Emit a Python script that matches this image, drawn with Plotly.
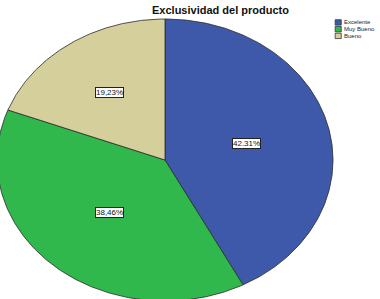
import numpy as np
import plotly.graph_objects as go

categories = ["Excelente", "Muy Bueno", "Bueno"]
values = [42.31, 38.46, 19.23]
value_labels = ["42.31%", "38,46%", "19,23%"]
colors = ["#3f59aa", "#30b84c", "#d5cf9c"]
label_radius = [0.5, 0.5, 0.58]

RX, RY = 168, 141  # ellipse radii (axis units = pixels)

fig = go.Figure()
total = sum(values)
start = 0.0
for cat, val, lab, col, lr in zip(categories, values, value_labels, colors, label_radius):
    span = val / total * 2 * np.pi
    th = np.linspace(start, start + span, 200)
    xs = np.concatenate([[0], RX * np.sin(th), [0]])
    ys = np.concatenate([[0], RY * np.cos(th), [0]])
    fig.add_trace(go.Scatter(x=xs, y=ys, mode="lines", fill="toself",
                             fillcolor=col, line=dict(color="#2a2a2a", width=0.8),
                             showlegend=False, hoverinfo="skip", name=cat))
    mid = start + span / 2
    fig.add_annotation(x=lr * RX * np.sin(mid), y=lr * RY * np.cos(mid),
                       text=lab, showarrow=False,
                       font=dict(family="Liberation Sans, Arial", size=8, color="#111"),
                       bgcolor="white", bordercolor="#222", borderwidth=1, borderpad=0)
    start += span

# legend
for i, (cat, col) in enumerate(zip(categories, colors)):
    yy = 0.925 - i * 0.0225
    fig.add_shape(type="rect", xref="paper", yref="paper",
                  x0=0.882, x1=0.898, y0=yy - 0.009, y1=yy + 0.009,
                  fillcolor=col, line=dict(color="#333", width=0.8))
    fig.add_annotation(xref="paper", yref="paper", x=0.901, y=yy, text=cat,
                       showarrow=False, xanchor="left", yanchor="middle",
                       font=dict(family="Liberation Sans, Arial", size=6, color="#222"))

fig.add_annotation(xref="paper", yref="paper", x=0.579, y=0.966,
                   text="<b>Exclusividad del producto</b>", showarrow=False,
                   xanchor="center", yanchor="middle",
                   font=dict(family="Liberation Sans, Arial", size=11, color="#111"))

fig.update_layout(
    width=380, height=299, margin=dict(l=0, r=0, t=0, b=0),
    paper_bgcolor="white", plot_bgcolor="white",
    xaxis=dict(range=[-165, 215], visible=False, fixedrange=True),
    yaxis=dict(range=[-139, 160], visible=False, fixedrange=True),
    showlegend=False,
)
fig.write_html("out.html")
